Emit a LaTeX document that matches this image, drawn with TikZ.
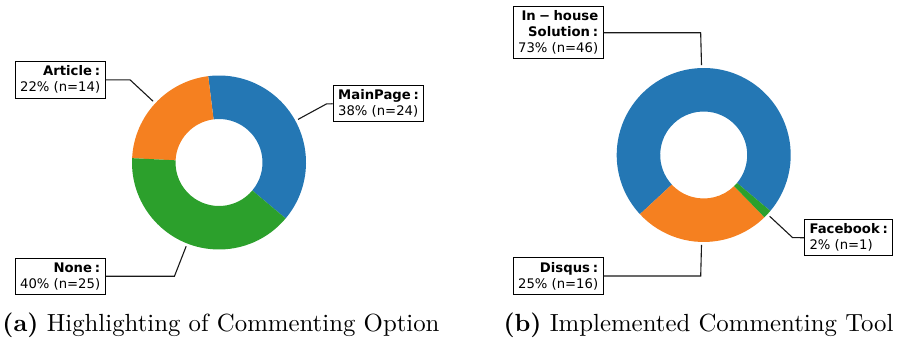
\documentclass[tikz,border=0pt]{standalone}
\usepackage{fontspec}
\newfontfamily\dvsans{DejaVu Sans}
\usetikzlibrary{calc}
\definecolor{pieblue}{HTML}{2477B4}
\definecolor{pieorange}{HTML}{F58020}
\definecolor{piegreen}{HTML}{2CA02C}
% annular sector: centre, start angle, end angle, colour
\newcommand\ringslice[4]{%
  \fill[#4] ($(#1)+(#2:87)$) arc[start angle=#2,end angle=#3,radius=87]
    -- ($(#1)+(#3:43.5)$) arc[start angle=#3,end angle=#2,radius=43.5] -- cycle;}
% bold heading of a label, colon followed by a small gap
\newcommand\lbhead[1]{{\bfseries #1\hspace{0.22em}:\hspace{3.5pt}}}
\begin{document}
\begin{tikzpicture}[x=1pt,y=1pt,
  labelbox/.style={draw=black,line width=1pt,fill=white,
    inner xsep=5pt,inner ysep=4.3pt,
    font=\dvsans\fontsize{13.2}{16}\selectfont},
  leftbox/.style={labelbox,align=right,anchor=east},
  rightbox/.style={labelbox,align=left,anchor=west},
  leader/.style={draw=black!90,line width=1.1pt},
  captext/.style={anchor=base west,inner sep=0pt,scale=2.48,
    font=\fontsize{10}{12}\selectfont}]
\useasboundingbox (0,0) rectangle (901,-339);

% ---- left donut ----
\coordinate (c1) at (219,-162.5);
\ringslice{c1}{-40}{97.14}{pieblue}
\ringslice{c1}{97.14}{177.14}{pieorange}
\ringslice{c1}{177.14}{320}{piegreen}

\node[rightbox] (mp) at (332.7,-103.8) {\lbhead{MainPage}\\38\% (n=24)};
\node[leftbox] (ar) at (105.7,-79.85) {\lbhead{Article}\\22\% (n=14)};
\node[leftbox] (no) at (105.7,-276.2) {\lbhead{None}\\40\% (n=25)};

\coordinate (tmp) at ($(c1)+(28.6:90)$);
\coordinate (tar) at ($(c1)+(137.1:90)$);
\coordinate (tno) at ($(c1)+(248.6:90)$);
\coordinate (emp) at (intersection of c1--tmp and mp.west--mp.east);
\coordinate (ear) at (intersection of c1--tar and ar.west--ar.east);
\coordinate (eno) at (intersection of c1--tno and no.west--no.east);
\draw[leader] (mp.west) -- (emp) -- (tmp);
\draw[leader] (ar.east) -- (ear) -- (tar);
\draw[leader] (no.east) -- (eno) -- (tno);

% ---- right donut ----
\coordinate (c2) at (703.7,-155);
\ringslice{c2}{-40}{222.86}{pieblue}
\ringslice{c2}{222.86}{314.29}{pieorange}
\ringslice{c2}{314.29}{320}{piegreen}

\node[leftbox] (ih) at (603.7,-32.8) {{\bfseries In\hspace{0.25em}−\hspace{0.25em}house\hspace{1.5pt}}\\\lbhead{Solution}\\73\% (n=46)};
\node[rightbox] (fb) at (804,-237.7) {\lbhead{Facebook}\\2\% (n=1)};
\node[leftbox] (dq) at (603.7,-276) {\lbhead{Disqus}\\25\% (n=16)};

\coordinate (tih) at ($(c2)+(91.4:90)$);
\coordinate (tfb) at ($(c2)+(317.1:90)$);
\coordinate (tdq) at ($(c2)+(268.6:90)$);
\coordinate (eih) at (intersection of c2--tih and ih.west--ih.east);
\coordinate (efb) at (intersection of c2--tfb and fb.west--fb.east);
\coordinate (edq) at (intersection of c2--tdq and dq.west--dq.east);
\draw[leader] (ih.east) -- (eih) -- (tih);
\draw[leader] (fb.west) -- (efb) -- (tfb);
\draw[leader] (dq.east) -- (edq) -- (tdq);

% ---- captions ----
\node[captext] (capa) at (2,-331.7) {\textbf{(a)} Highlighting of Commenting Option};
\node[captext] (capb) at (503,-331.7) {\textbf{(b)} Implemented Commenting Tool};
\end{tikzpicture}
\end{document}
